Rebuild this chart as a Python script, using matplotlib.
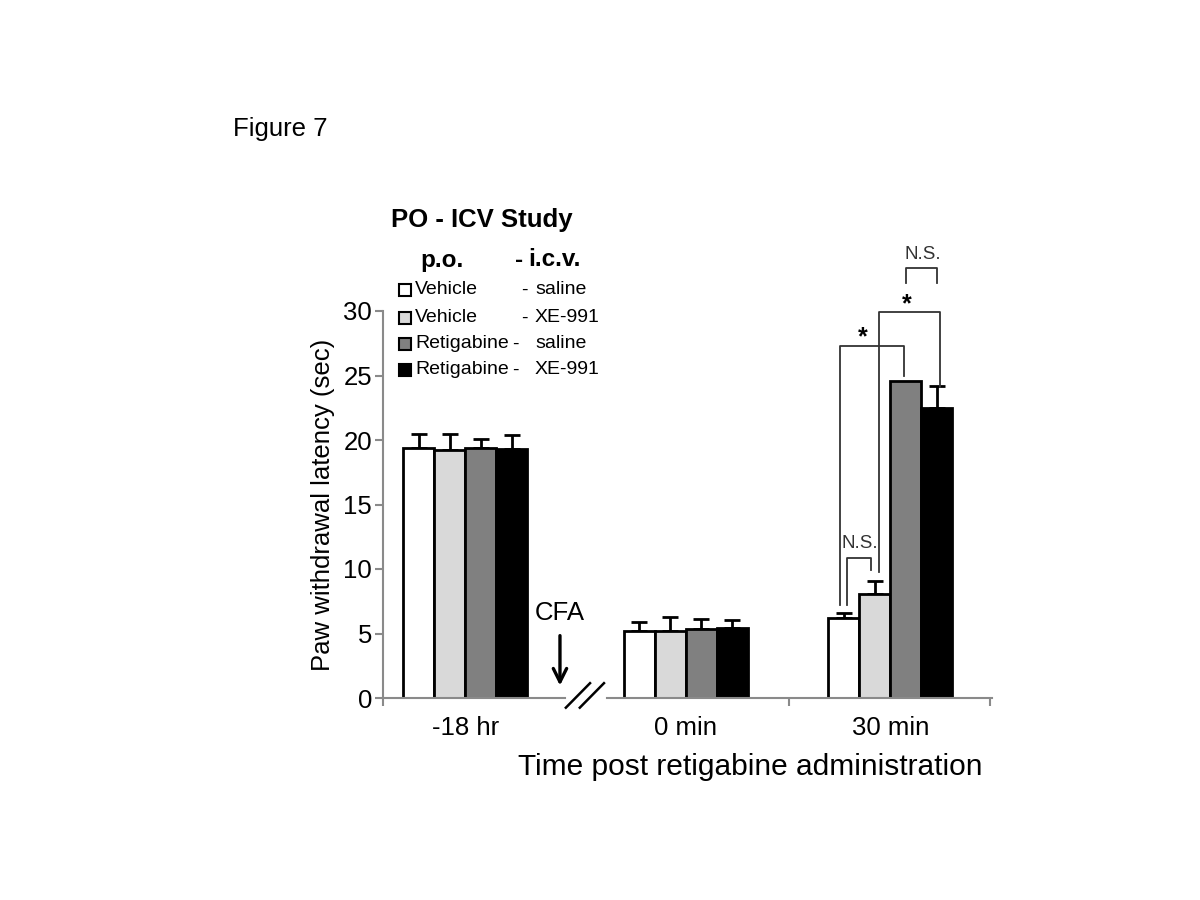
import matplotlib
matplotlib.use('Agg')
import matplotlib.pyplot as plt
import numpy as np

plt.rcParams['font.family'] = ['Liberation Sans', 'DejaVu Sans']

# --- DATA ---
groups = ['-18 hr', '0 min', '30 min']
series = ['Vehicle - saline', 'Vehicle - XE-991', 'Retigabine - saline', 'Retigabine - XE-991']
po_names = ['Vehicle', 'Vehicle', 'Retigabine', 'Retigabine']
icv_names = ['saline', 'XE-991', 'saline', 'XE-991']
means = np.array([
    [19.35, 19.2, 19.35, 19.3],   # -18 hr
    [5.2, 5.2, 5.35, 5.4],        # 0 min
    [6.2, 8.1, 24.6, 22.5],       # 30 min
])
errs = np.array([
    [1.15, 1.3, 0.75, 1.1],
    [0.7, 1.05, 0.8, 0.65],
    [0.4, 1.0, 0.0, 1.7],
])
# significance brackets in the 30 min group: (bar_a, bar_b, left_bottom, top, right_bottom, label)
brackets = [
    (0, 1, 7.2, 10.85, 9.9, 'N.S.'),
    (0, 2, 7.2, 27.3, 25.0, '*'),
    (1, 3, 9.8, 29.9, 24.1, '*'),
    (2, 3, 32.2, 33.3, 32.2, 'N.S.'),
]

# --- LAYOUT ---
colors = ['white', '#d9d9d9', '#808080', 'black']
group_centers = [2.66, 9.77, 16.37]
boundaries = [0, 13.1, 19.6]
bar_w = 1.0
x_max = 19.65
brk = (5.87, 7.23)
br_offsets = [(0.11, -0.11), (-0.11, -0.05), (0.15, 0.11), (0.0, 0.0)]
label_dx = [0.0, -0.3, -0.1, 0.05]
axis_gray = '#8a8a8a'
fs = 18.5

fig = plt.figure(figsize=(12, 9), dpi=100)
ax = fig.add_axes([383 / 1200, 1 - 698 / 900, 609 / 1200, 387 / 900])

for g, gc in enumerate(group_centers):
    for i in range(len(series)):
        x = gc + (i - 1.5) * bar_w
        ax.bar(x, means[g, i], width=bar_w, color=colors[i], edgecolor='black',
               linewidth=2, zorder=3)
        if errs[g, i] > 0:
            ax.errorbar(x, means[g, i], yerr=[[0], [errs[g, i]]], fmt='none',
                        ecolor='black', elinewidth=2, capsize=6, capthick=2, zorder=2)

ax.set_xlim(0, x_max)
ax.set_ylim(0, 30)
ax.set_yticks(np.arange(0, 31, 5))
ax.set_xticks(group_centers)
ax.set_xticklabels(groups)
ax.set_xticks(boundaries, minor=True)
ax.tick_params(axis='x', which='major', length=0, pad=13, labelsize=fs)
ax.tick_params(axis='x', which='minor', length=6, width=1.5, color=axis_gray, direction='out')
ax.tick_params(axis='y', length=6, width=1.5, color=axis_gray, labelsize=fs, pad=2)

for s in ['top', 'right', 'bottom']:
    ax.spines[s].set_visible(False)
ax.spines['left'].set_color(axis_gray)
ax.spines['left'].set_linewidth(1.5)

# x axis with a break
ax.plot([0, brk[0]], [0, 0], color=axis_gray, lw=1.5, clip_on=False, zorder=4)
ax.plot([brk[1], x_max], [0, 0], color=axis_gray, lw=1.5, clip_on=False, zorder=4)
for dx in [0.0, 0.45]:
    ax.plot([5.9 + dx, 6.68 + dx], [-0.75, 1.15], color='black', lw=1.8, clip_on=False)

# CFA arrow
ax.annotate('', xy=(5.71, 0.75), xytext=(5.71, 5.05),
            arrowprops=dict(arrowstyle='->', color='black', lw=2.4, mutation_scale=24))
ax.text(5.71, 6.6, 'CFA', ha='center', va='center', fontsize=fs)

# significance brackets
g3 = group_centers[2]
for (a, b, lb, top, rb, lab), (oa, ob), ldx in zip(brackets, br_offsets, label_dx):
    xa = g3 + (a - 1.5) * bar_w + oa
    xb = g3 + (b - 1.5) * bar_w + ob
    ax.plot([xa, xa, xb, xb], [lb, top, top, rb], color='#333333', lw=1.3,
            clip_on=False, zorder=5)
    if lab == '*':
        ax.text((xa + xb) / 2 + ldx, top - 0.3, '*', ha='center', va='bottom',
                fontsize=18, fontweight='bold', clip_on=False)
    else:
        ax.text((xa + xb) / 2 + ldx, top + 0.45, lab, ha='center', va='bottom',
                fontsize=13.5, color='#333333', clip_on=False)

ax.set_ylabel('Paw withdrawal latency (sec)', fontsize=fs, labelpad=6)
fig.text(750 / 1200, 1 - 767 / 900, 'Time post retigabine administration',
         ha='center', va='center', fontsize=21.5)
fig.text(233 / 1200, 1 - 129 / 900, 'Figure 7', ha='left', va='center', fontsize=fs)

# legend drawn by hand
fig.text(391 / 1200, 1 - 220 / 900, 'PO - ICV Study', ha='left', va='center',
         fontsize=18.5, fontweight='bold')
fig.text(420 / 1200, 1 - 260 / 900, 'p.o.', ha='left', va='center', fontsize=17.5, fontweight='bold')
fig.text(515 / 1200, 1 - 260 / 900, '-', ha='left', va='center', fontsize=17.5, fontweight='bold')
fig.text(528 / 1200, 1 - 260 / 900, 'i.c.v.', ha='left', va='center', fontsize=17.5, fontweight='bold')
row_y = [290, 318, 344, 370]
dash_x = [521, 521, 512, 512]
for i in range(len(series)):
    y = 1 - row_y[i] / 900
    fig.patches.append(plt.Rectangle((399 / 1200, y - 6 / 900), 12 / 1200, 12 / 900,
                                     facecolor=colors[i], edgecolor='black', lw=1.5,
                                     transform=fig.transFigure, figure=fig))
    fig.text(415 / 1200, y, po_names[i], ha='left', va='center', fontsize=14)
    fig.text(dash_x[i] / 1200, y, '-', ha='left', va='center', fontsize=14)
    fig.text(535 / 1200, y, icv_names[i], ha='left', va='center', fontsize=14)

fig.savefig('out.png', dpi=100)
